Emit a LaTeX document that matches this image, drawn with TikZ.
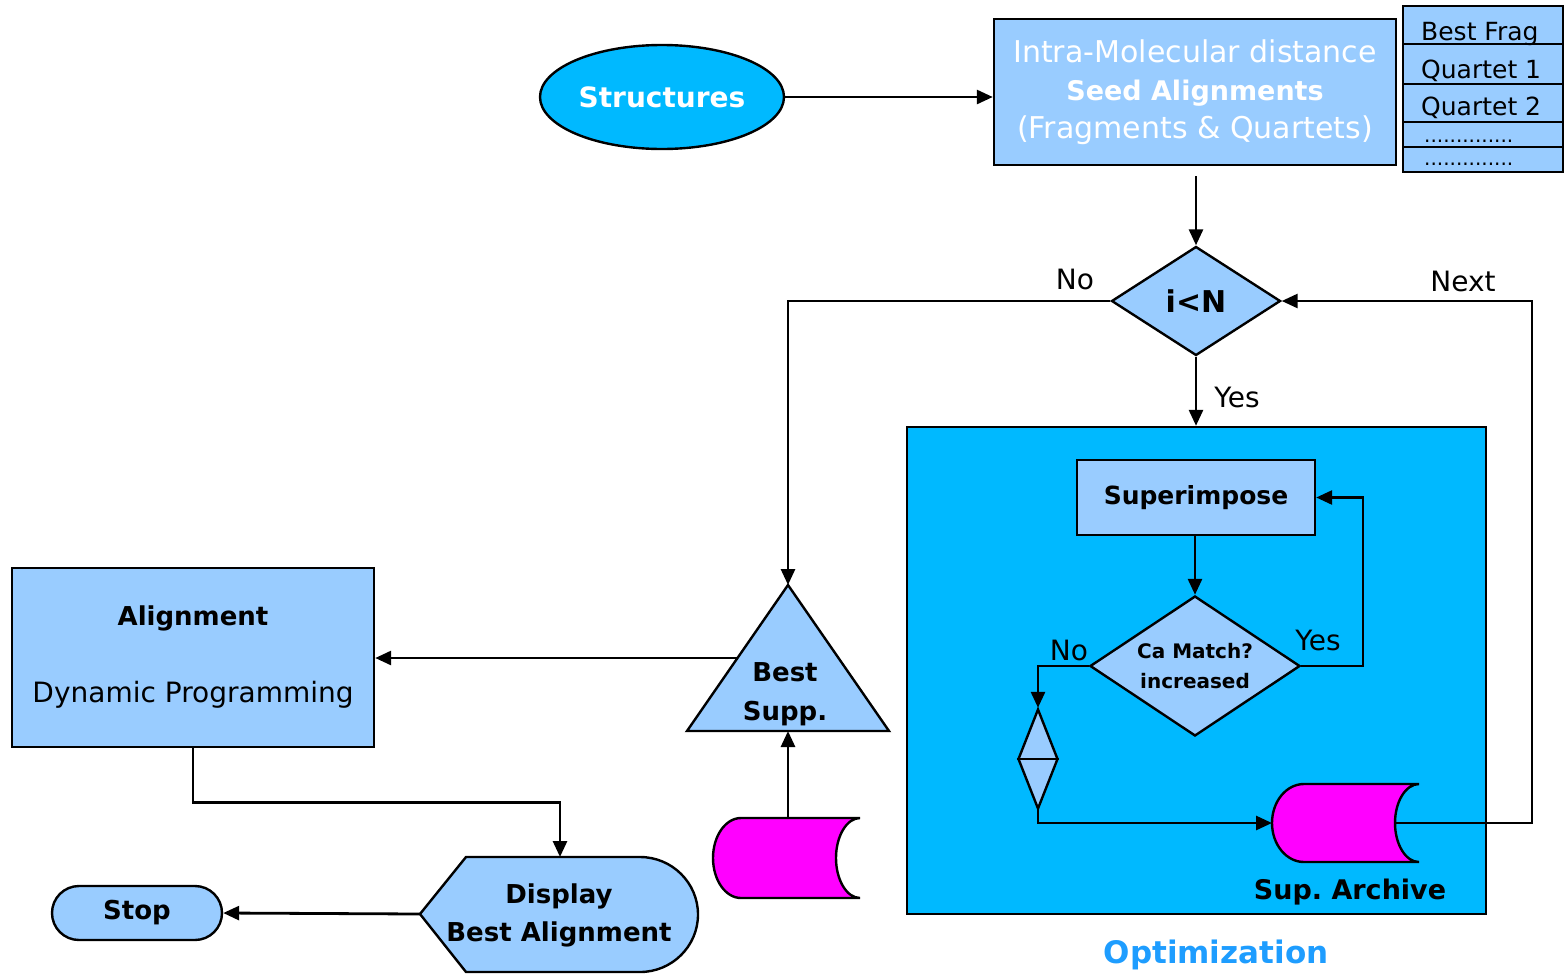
\documentclass[tikz,border=0pt]{standalone}
\usepackage{fontspec}
\setmainfont{DejaVu Sans}
\usetikzlibrary{arrows.meta,shapes.geometric}
\definecolor{paleblue}{RGB}{153,204,255}
\definecolor{skyfill}{RGB}{0,185,255}
\definecolor{titleblue}{RGB}{30,157,255}
\definecolor{archive}{RGB}{255,0,255}
\newcommand{\fs}[2]{\fontsize{#1}{#2}\selectfont}

\begin{document}
\begin{tikzpicture}[x=1pt,y=-1pt,
  box/.style={draw,line width=2.4pt,fill=paleblue,inner sep=0pt},
  store/.style={draw,line width=2.4pt,fill=archive},
  arr/.style={line width=2.8pt,-{Triangle[length=16pt,width=14pt]}},
  lbl/.style={inner sep=0pt,font=\fs{28}{34}},
  cell/.style={anchor=base west,inner sep=0pt,font=\fs{25}{30}},
  dots/.style={anchor=base west,inner sep=0pt,font=\fs{20}{24}}]
\useasboundingbox (0,0) rectangle (1564,975);

% start node and seed box
\node[ellipse,draw,line width=2.4pt,fill=skyfill,minimum width=244pt,minimum height=104pt,
      inner sep=0pt,text=white,font=\bfseries\fs{28}{34}] (st) at (662,97) {Structures};
\node[box,minimum width=402pt,minimum height=146pt,text=white,align=center,font=\fs{30}{38}]
      (seed) at (1195,92)
      {Intra-Molecular distance\\{\bfseries\fs{27}{38}\selectfont Seed Alignments}\\(Fragments \& Quartets)};

% seed list
\node[box,minimum width=160pt,minimum height=38pt] (r1) at (1483,25) {};
\node[box,minimum width=160pt,minimum height=40pt] (r2) at (1483,64) {};
\node[box,minimum width=160pt,minimum height=38pt] (r3) at (1483,103) {};
\node[box,minimum width=160pt,minimum height=25pt] (r4) at (1483,134.5) {};
\node[box,minimum width=160pt,minimum height=25pt] (r5) at (1483,159.5) {};
\node[cell] (t1) at (1421,40) {Best Frag};
\node[cell] (t2) at (1421,78) {Quartet 1};
\node[cell] (t3) at (1421,115) {Quartet 2};
\node[dots] (t4) at (1424,142) {..............};
\node[dots] (t5) at (1424,165) {..............};

% loop test
\node[diamond,box,minimum width=169pt,minimum height=109pt,font=\bfseries\fs{30}{36}]
      (dn) at (1196,301) {i<N};

% optimization block
\node[draw,line width=2.4pt,fill=skyfill,minimum width=579pt,minimum height=487pt,inner sep=0pt]
      (opt) at (1196.5,670.5) {};
\node[text=titleblue,inner sep=0pt,font=\bfseries\fs{31}{36}] (optlbl) at (1216,955) {Optimization};
\node[box,minimum width=238pt,minimum height=75pt,font=\bfseries\fs{25}{30}]
      (sp) at (1196,497.5) {Superimpose};
\node[diamond,box,shape aspect=1.5,minimum width=210pt,minimum height=140pt,align=center,
      font=\bfseries\fs{20}{30}] (ca) at (1195,666) {Ca Match?\\increased};
\node[diamond,box,minimum width=40pt,minimum height=100pt] (col) at (1038,759) {};
\draw[line width=2.4pt] (col.west) -- (col.east);

% superposition archive
\filldraw[store] (1304,784) -- (1419,784)
  .. controls (1405.8,784) and (1395,801.5) .. (1395,823)
  .. controls (1395,844.5) and (1405.8,862) .. (1419,862)
  -- (1304,862)
  .. controls (1286.3,862) and (1272,844.5) .. (1272,823)
  .. controls (1272,801.5) and (1286.3,784) .. (1304,784) -- cycle;
\coordinate (saL) at (1272,823);
\coordinate (saR) at (1395,823);
\node[inner sep=0pt,font=\bfseries\fs{27}{32}] (salbl) at (1350,892) {Sup.~Archive};

% best superposition
\filldraw[line width=2.4pt,fill=paleblue] (788,585) coordinate (bsTop) -- (889,731) -- (687,731) -- cycle;
\coordinate (bsBase) at (788,731);
\coordinate (bsSide) at (738,658);
\node[align=center,inner sep=0pt,font=\bfseries\fs{26}{39}] (bs) at (785,694) {Best\\Supp.};

% stored superpositions
\filldraw[store] (741,818) -- (860,818)
  .. controls (846.8,818) and (836,836) .. (836,858)
  .. controls (836,880) and (846.8,898) .. (860,898)
  -- (741,898)
  .. controls (725.5,898) and (713,880) .. (713,858)
  .. controls (713,836) and (725.5,818) .. (741,818) -- cycle;
\coordinate (dbTop) at (788,818);

% alignment, display, stop
\node[box,minimum width=362pt,minimum height=179pt,align=center,font=\fs{28}{33}]
      (al) at (193,657.5) {{\bfseries\fs{26}{33}\selectfont Alignment}\\[44pt]Dynamic Programming};
\filldraw[line width=2.4pt,fill=paleblue] (420,914) coordinate (dispL) -- (466,857) -- (640,857)
  .. controls (672,857) and (698,882.8) .. (698,914.5)
  .. controls (698,946.2) and (672,972) .. (640,972)
  -- (466,972) -- cycle;
\coordinate (dispTop) at (560,857);
\node[align=center,inner sep=0pt,font=\bfseries\fs{26}{38}] (disp) at (559,915) {Display\\Best Alignment};
\node[box,rounded corners=27pt,minimum width=170pt,minimum height=54pt,font=\bfseries\fs{26}{32}]
      (stop) at (137,913) {Stop};

% helper corners
\coordinate (nx) at (1532,301);
\coordinate (yx) at (1363,666);

% connectors
\draw[arr] (st.east) -- (st.east -| seed.west);
\draw[arr] (dn.north |- seed.south) ++(0,10) -- (dn.north);
\draw[arr] (dn.west) -| (bsTop);
\draw[arr] (dn.south) -- (dn.south |- opt.north);
\draw[arr] (saR) -- (saR -| nx) -- (nx |- dn.east) -- (dn.east);
\draw[arr] (ca.north |- sp.south) -- (ca.north);
\draw[arr] (ca.east) -- (ca.east -| yx) |- (sp.east);
\draw[arr] (ca.west) -| (col.north);
\draw[arr] (col.south) |- (saL);
\draw[arr] (bsSide) -- (bsSide -| al.east);
\draw[arr] (dbTop) -- (bsBase);
\draw[arr] (al.south) -- ++(0,54) -| (dispTop);
\draw[arr] (dispL) -- (stop.east);

% connector labels
\node[lbl] (lno1) at (1075,279) {No};
\node[lbl] (lyes1) at (1237,397) {Yes};
\node[lbl] (lnext) at (1463,281) {Next};
\node[lbl] (lno2) at (1069,650) {No};
\node[lbl] (lyes2) at (1318,640) {Yes};
\end{tikzpicture}
\end{document}
